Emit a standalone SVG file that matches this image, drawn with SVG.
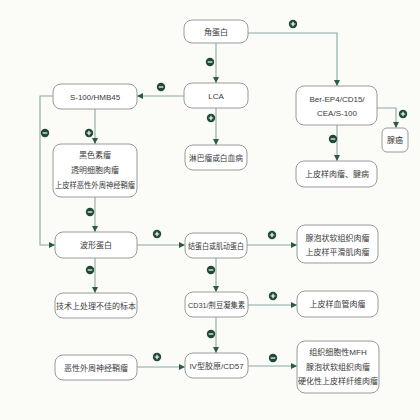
<svg xmlns="http://www.w3.org/2000/svg" width="420" height="420" viewBox="0 0 420 420">
<style>
.box{fill:#ffffff;stroke:#9a9a9a;stroke-width:1}
.t{font-family:"Liberation Sans","Noto Sans CJK SC",sans-serif;font-size:8px;fill:#3a3a3a;text-anchor:middle}
.ln{fill:none;stroke:#8aaaa5;stroke-width:1.1}
.bd{fill:#1f4a35}
.sg{stroke:#ffffff;stroke-width:1.2}
</style>
<defs>
<marker id="ar" viewBox="0 0 6 6" refX="6" refY="3" markerWidth="6" markerHeight="6" markerUnits="userSpaceOnUse" orient="auto">
<path d="M0,0 L6,3 L0,6 Z" fill="#2d5a45"/>
</marker>
<g id="plus"><circle r="4.2" class="bd"/><path d="M-2.3,0 H2.3 M0,-2.3 V2.3" class="sg"/></g>
<g id="minus"><circle r="4.2" class="bd"/><path d="M-2.3,0 H2.3" class="sg"/></g>
</defs>
<rect width="420" height="420" fill="#fbfbf8"/>
<g id="connectors">
<path class="ln" marker-end="url(#ar)" d="M216,43 V83"/>
<path class="ln" marker-end="url(#ar)" d="M248,33 H337 V86"/>
<path class="ln" marker-end="url(#ar)" d="M184,96 H137"/>
<path class="ln" marker-end="url(#ar)" d="M216,108 V145"/>
<path class="ln" marker-end="url(#ar)" d="M95,109 V144"/>
<path class="ln" marker-end="url(#ar)" d="M53,96 H40 V245 H55"/>
<path class="ln" marker-end="url(#ar)" d="M95,197 V232"/>
<path class="ln" marker-end="url(#ar)" d="M377,108 H396 V128"/>
<path class="ln" marker-end="url(#ar)" d="M337,125 V161"/>
<path class="ln" marker-end="url(#ar)" d="M137,245 H185"/>
<path class="ln" marker-end="url(#ar)" d="M95,258 V293"/>
<path class="ln" marker-end="url(#ar)" d="M247,245 H297"/>
<path class="ln" marker-end="url(#ar)" d="M216,258 V292"/>
<path class="ln" marker-end="url(#ar)" d="M248,305 H297"/>
<path class="ln" marker-end="url(#ar)" d="M216,317 V353"/>
<path class="ln" marker-end="url(#ar)" d="M137,367 H185"/>
<path class="ln" marker-end="url(#ar)" d="M248,366 H297"/>
<use href="#minus" x="210" y="62"/>
<use href="#plus" x="293" y="24"/>
<use href="#minus" x="161" y="87"/>
<use href="#plus" x="211" y="118"/>
<use href="#plus" x="89" y="133"/>
<use href="#minus" x="45" y="133"/>
<use href="#minus" x="90" y="212"/>
<use href="#plus" x="403" y="114"/>
<use href="#minus" x="333" y="139"/>
<use href="#plus" x="157" y="234"/>
<use href="#minus" x="90" y="270"/>
<use href="#plus" x="272" y="235"/>
<use href="#minus" x="211" y="270"/>
<use href="#plus" x="273" y="296"/>
<use href="#minus" x="211" y="334"/>
<use href="#plus" x="157" y="357"/>
<use href="#minus" x="273" y="358"/>
</g>
<g id="n-keratin"><rect class="box" x="184" y="20" width="64" height="23" rx="8"/><text class="t" x="216" y="35">角蛋白</text></g>
<g id="n-lca"><rect class="box" x="184" y="83" width="64" height="25" rx="8"/><text class="t" x="216" y="99">LCA</text></g>
<g id="n-s100"><rect class="box" x="53" y="84" width="84" height="25" rx="8"/><text class="t" x="95" y="99.5">S-100/HMB45</text></g>
<g id="n-ber"><rect class="box" x="296" y="86" width="81" height="39" rx="8"/><text class="t" x="337" y="102">Ber-EP4/CD15/</text><text class="t" x="337" y="116">CEA/S-100</text></g>
<g id="n-adeno"><rect class="box" x="382" y="128" width="26" height="24" rx="5"/><text class="t" x="395" y="143">腺癌</text></g>
<g id="n-lymph"><rect class="box" x="185" y="145" width="62" height="25" rx="8"/><text class="t" x="216" y="160.5" textLength="54" lengthAdjust="spacingAndGlyphs">淋巴瘤或白血病</text></g>
<g id="n-epsarc"><rect class="box" x="296" y="161" width="81" height="26" rx="8"/><text class="t" x="337" y="177">上皮样肉瘤、腱病</text></g>
<g id="n-melan"><rect class="box" x="53" y="144" width="84" height="53" rx="8"/><text class="t" x="95" y="158">黑色素瘤</text><text class="t" x="95" y="173">透明细胞肉瘤</text><text class="t" x="95" y="188" textLength="80" lengthAdjust="spacingAndGlyphs">上皮样恶性外周神经鞘瘤</text></g>
<g id="n-vim"><rect class="box" x="55" y="232" width="82" height="26" rx="8"/><text class="t" x="96" y="248">波形蛋白</text></g>
<g id="n-desmin"><rect class="box" x="185" y="233" width="62" height="25" rx="8"/><text class="t" x="216" y="248.5" textLength="56" lengthAdjust="spacingAndGlyphs">结蛋白或肌动蛋白</text></g>
<g id="n-aspart"><rect class="box" x="297" y="225" width="81" height="38" rx="8"/><text class="t" x="337.5" y="241">腺泡状软组织肉瘤</text><text class="t" x="337.5" y="255">上皮样平滑肌肉瘤</text></g>
<g id="n-tech"><rect class="box" x="55" y="293" width="82" height="25" rx="8"/><text class="t" x="96" y="308.5">技术上处理不佳的标本</text></g>
<g id="n-cd31"><rect class="box" x="185" y="292" width="63" height="25" rx="8"/><text class="t" x="216.5" y="307.5" textLength="57" lengthAdjust="spacingAndGlyphs">CD31/荆豆凝集素</text></g>
<g id="n-angio"><rect class="box" x="297" y="291" width="81" height="26" rx="8"/><text class="t" x="337.5" y="307">上皮样血管肉瘤</text></g>
<g id="n-mpnst"><rect class="box" x="55" y="355" width="82" height="25" rx="8"/><text class="t" x="96" y="370.5">恶性外周神经鞘瘤</text></g>
<g id="n-col4"><rect class="box" x="185" y="353" width="63" height="25" rx="8"/><text class="t" x="216.5" y="368.5">IV型胶原/CD57</text></g>
<g id="n-mfh"><rect class="box" x="297" y="341" width="82" height="52" rx="8"/><text class="t" x="338" y="355">组织细胞性MFH</text><text class="t" x="338" y="369.5">腺泡状软组织肉瘤</text><text class="t" x="338" y="384">硬化性上皮样纤维肉瘤</text></g>
</svg>
